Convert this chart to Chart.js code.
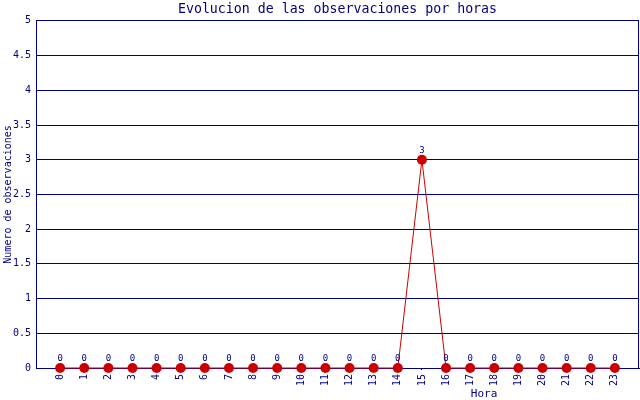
<!DOCTYPE html>
<html>
<head>
<meta charset="utf-8">
<script src="https://cdn.jsdelivr.net/npm/chart.js@4"></script>
<style>
  html, body { margin: 0; padding: 0; background: #fff; }
  #wrap { width: 640px; height: 400px; }
</style>
</head>
<body>
<div id="wrap"><canvas id="horasChart"></canvas></div>
<script>
const horas = [0, 1, 2, 3, 4, 5, 6, 7, 8, 9, 10, 11, 12, 13, 14, 15, 16, 17, 18, 19, 20, 21, 22, 23];
const observaciones = [0, 0, 0, 0, 0, 0, 0, 0, 0, 0, 0, 0, 0, 0, 0, 3, 0, 0, 0, 0, 0, 0, 0, 0];
const yTicks = [0, 0.5, 1, 1.5, 2, 2.5, 3, 3.5, 4, 4.5, 5];

const navy = '#000080';
const rojo = '#cc0000';
const mono = 'DejaVu Sans Mono';

// labels above points, right border and the x title
const extras = {
  id: 'extras',
  afterDatasetsDraw(chart) {
    const ctx = chart.ctx;
    const meta = chart.getDatasetMeta(0);
    ctx.save();
    ctx.font = '9px "' + mono + '"';
    ctx.fillStyle = navy;
    ctx.textAlign = 'center';
    ctx.textBaseline = 'bottom';
    meta.data.forEach((pt, i) => {
      ctx.fillText(String(observaciones[i]), pt.x, pt.y - 5);
    });
    ctx.restore();
  },
  afterDraw(chart) {
    const ctx = chart.ctx;
    const a = chart.chartArea;
    ctx.save();
    ctx.strokeStyle = navy;
    ctx.lineWidth = 1;
    ctx.beginPath();
    ctx.moveTo(a.right - 0.5, a.top);
    ctx.lineTo(a.right - 0.5, a.bottom);
    ctx.stroke();
    ctx.font = '11px "' + mono + '"';
    ctx.fillStyle = navy;
    ctx.textAlign = 'center';
    ctx.textBaseline = 'middle';
    ctx.fillText('Hora', a.left + (a.right - a.left) * 0.743, 394);
    ctx.restore();
  }
};

new Chart(document.getElementById('horasChart').getContext('2d'), {
  type: 'line',
  data: {
    datasets: [
      {
        label: 'Observaciones',
        data: horas.map((h, i) => ({ x: h, y: observaciones[i] })),
        borderColor: rojo,
        borderWidth: 1,
        backgroundColor: rojo,
        pointBackgroundColor: rojo,
        pointBorderColor: rojo,
        pointRadius: 5,
        pointBorderWidth: 0,
        fill: false,
        tension: 0,
        clip: false,
      },
    ],
  },
  options: {
    responsive: true,
    maintainAspectRatio: false,
    animation: false,
    layout: {
      autoPadding: false,
      padding: { left: 0, right: 1, top: 0, bottom: 0 },
    },
    plugins: {
      legend: { display: false },
      tooltip: { enabled: false },
      title: {
        display: true,
        fullSize: false,
        text: 'Evolucion de las observaciones por horas',
        color: navy,
        font: { family: mono, size: 13.25, weight: 'normal' },
        padding: { top: 2, bottom: 3 },
      },
    },
    scales: {
      x: {
        type: 'linear',
        min: -1,
        max: 24,
        afterFit: (s) => { s.height = 32; s.paddingLeft = 0; s.paddingRight = 0; },
        afterBuildTicks: (s) => { s.ticks = horas.map((h) => ({ value: h })); },
        border: { color: navy, width: 1 },
        grid: { drawOnChartArea: false, color: navy, tickLength: 2 },
        ticks: {
          color: navy,
          font: { family: mono, size: 10 },
          minRotation: 90,
          maxRotation: 90,
          padding: 4,
          autoSkip: false,
          callback: (v) => String(v),
        },
      },
      y: {
        min: 0,
        max: 5,
        afterFit: (s) => { s.width = 36; },
        afterBuildTicks: (s) => { s.ticks = yTicks.map((v) => ({ value: v })); },
        border: { color: navy, width: 1 },
        grid: { color: navy, lineWidth: 1, drawTicks: false },
        ticks: {
          color: navy,
          font: { family: mono, size: 10 },
          padding: 5,
          callback: (v) => String(v),
        },
        title: {
          display: true,
          text: 'Numero de observaciones',
          color: navy,
          font: { family: mono, size: 10 },
          padding: { top: 2, bottom: 0 },
        },
      },
    },
  },
  plugins: [extras],
});
</script>
</body>
</html>
